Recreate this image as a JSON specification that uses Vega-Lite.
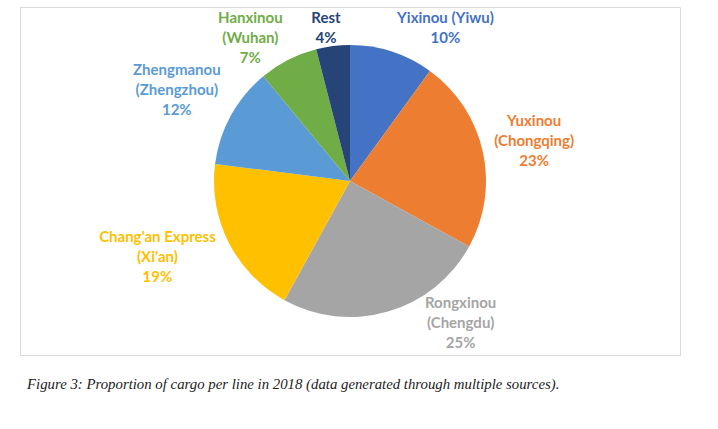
{
  "$schema": "https://vega.github.io/schema/vega-lite/v6.json",
  "width": 660,
  "height": 348,
  "autosize": {"type": "none"},
  "padding": {"left": 20, "top": 7, "right": 38, "bottom": 74},
  "background": "white",
  "view": {"stroke": "#d9d9d9", "strokeWidth": 1},
  "config": {
    "view": {"stroke": "#d9d9d9", "strokeWidth": 1},
    "text": {"align": "center", "baseline": "middle", "font": "Lato", "fontWeight": "bold", "fontSize": 15, "lineHeight": 20, "radius": 160}
  },
  "title": {
    "text": "Figure 3: Proportion of cargo per line in 2018 (data generated through multiple sources).",
    "orient": "bottom",
    "anchor": "start",
    "dx": 7,
    "offset": 22,
    "font": "Liberation Serif",
    "fontStyle": "italic",
    "fontWeight": "normal",
    "fontSize": 14.8,
    "color": "#222222"
  },
  "data": {
    "values": [
      {"idx": 1, "name": "Yixinou", "label": "Yixinou (Yiwu)", "value": 10},
      {"idx": 2, "name": "Yuxinou", "label": "Yuxinou\n(Chongqing)", "value": 23},
      {"idx": 3, "name": "Rongxinou", "label": "Rongxinou\n(Chengdu)", "value": 25},
      {"idx": 4, "name": "Chang'an Express", "label": "Chang'an Express\n(Xi'an)", "value": 19},
      {"idx": 5, "name": "Zhengmanou", "label": "Zhengmanou\n(Zhengzhou)", "value": 12},
      {"idx": 6, "name": "Hanxinou", "label": "Hanxinou\n(Wuhan)", "value": 7},
      {"idx": 7, "name": "Rest", "label": "Rest", "value": 4}
    ]
  },
  "transform": [
    {"stack": "value", "groupby": [], "sort": [{"field": "idx"}], "as": ["v0", "v1"]},
    {"calculate": "(datum.v0 + datum.v1) / 2", "as": "mid"},
    {"calculate": "split(datum.label + '\\n' + datum.value + '%', '\\n')", "as": "text"}
  ],
  "encoding": {
    "color": {
      "field": "name",
      "type": "nominal",
      "scale": {
        "domain": ["Yixinou", "Yuxinou", "Rongxinou", "Chang'an Express", "Zhengmanou", "Hanxinou", "Rest"],
        "range": ["#4472C4", "#ED7D31", "#A5A5A5", "#FFC000", "#5B9BD5", "#70AD47", "#264478"]
      },
      "legend": null
    }
  },
  "layer": [
    {
      "mark": {"type": "arc", "outerRadius": 136},
      "encoding": {
        "theta": {"field": "v0", "type": "quantitative", "scale": {"domain": [0, 100]}},
        "theta2": {"field": "v1"}
      }
    },
    {
      "transform": [{"filter": {"field": "name", "equal": "Yixinou"}}],
      "mark": {"type": "text", "dx": 46, "dy": -11},
      "encoding": {
        "theta": {"field": "mid", "type": "quantitative", "stack": null, "scale": {"domain": [0, 100]}},
        "text": {"field": "text", "type": "nominal"}
      }
    },
    {
      "transform": [{"filter": {"field": "name", "equal": "Yuxinou"}}],
      "mark": {"type": "text", "dx": 28, "dy": -25},
      "encoding": {
        "theta": {"field": "mid", "type": "quantitative", "stack": null, "scale": {"domain": [0, 100]}},
        "text": {"field": "text", "type": "nominal"}
      }
    },
    {
      "transform": [{"filter": {"field": "name", "equal": "Rongxinou"}}],
      "mark": {"type": "text", "dx": 66, "dy": -32},
      "encoding": {
        "theta": {"field": "mid", "type": "quantitative", "stack": null, "scale": {"domain": [0, 100]}},
        "text": {"field": "text", "type": "nominal"}
      }
    },
    {
      "transform": [{"filter": {"field": "name", "equal": "Chang'an Express"}}],
      "mark": {"type": "text", "dx": -50, "dy": -17},
      "encoding": {
        "theta": {"field": "mid", "type": "quantitative", "stack": null, "scale": {"domain": [0, 100]}},
        "text": {"field": "text", "type": "nominal"}
      }
    },
    {
      "transform": [{"filter": {"field": "name", "equal": "Zhengmanou"}}],
      "mark": {"type": "text", "dx": -33, "dy": -34},
      "encoding": {
        "theta": {"field": "mid", "type": "quantitative", "stack": null, "scale": {"domain": [0, 100]}},
        "text": {"field": "text", "type": "nominal"}
      }
    },
    {
      "transform": [{"filter": {"field": "name", "equal": "Hanxinou"}}],
      "mark": {"type": "text", "dx": -27, "dy": -20},
      "encoding": {
        "theta": {"field": "mid", "type": "quantitative", "stack": null, "scale": {"domain": [0, 100]}},
        "text": {"field": "text", "type": "nominal"}
      }
    },
    {
      "transform": [{"filter": {"field": "name", "equal": "Rest"}}],
      "mark": {"type": "text", "dx": -4, "dy": -4},
      "encoding": {
        "theta": {"field": "mid", "type": "quantitative", "stack": null, "scale": {"domain": [0, 100]}},
        "text": {"field": "text", "type": "nominal"}
      }
    }
  ]
}
